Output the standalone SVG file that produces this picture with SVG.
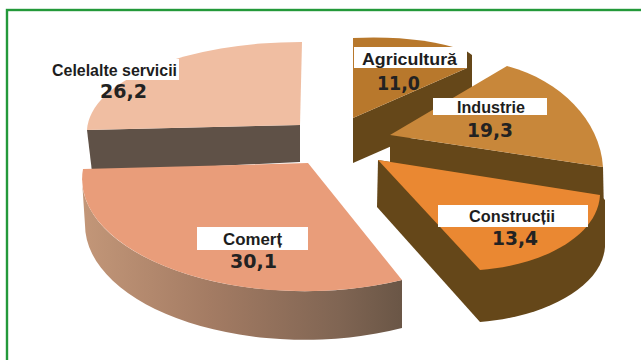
<svg xmlns="http://www.w3.org/2000/svg" width="641" height="360" viewBox="0 0 641 360">
<defs>
<linearGradient id="comSide" x1="85" y1="0" x2="402" y2="0" gradientUnits="userSpaceOnUse">
<stop offset="0" stop-color="#c29678"/>
<stop offset="0.4" stop-color="#a37b63"/>
<stop offset="0.8" stop-color="#806553"/>
<stop offset="1" stop-color="#6a5646"/>
</linearGradient>
</defs>
<style>
.box{fill:#ffffff}
.name{font-family:"Liberation Sans",Arial,sans-serif;font-weight:bold;font-size:17px;fill:#1d1d1d;text-anchor:middle}
.num{font-family:"DejaVu Sans",Verdana,sans-serif;font-weight:bold;font-size:20px;fill:#222222;text-anchor:middle}
.dark{fill:#654719}
</style>
<rect x="0" y="0" width="641" height="360" fill="#ffffff"/>
<rect x="7" y="10" width="640" height="360" fill="#ffffff" stroke="#23993a" stroke-width="2.4"/>

<g id="celelalte">
<path d="M87,130 L300,125 L300,162 L92,172 Z" fill="#5f5147"/>
<path d="M87,130 A214,90 0 0 1 302,42 L300,125 Z" fill="#f0bea2"/>
<rect class="box" x="50" y="59" width="129" height="21"/>
<text class="name" x="114.5" y="76" textLength="125" lengthAdjust="spacingAndGlyphs">Celelalte servicii</text>
<text class="num" x="123.5" y="98" textLength="47" lengthAdjust="spacingAndGlyphs">26,2</text>
</g>

<g id="comert">
<path d="M82,180 A223,112 0 0 0 402,280 L402,328 A220,115 0 0 1 85,225 Z" fill="url(#comSide)"/>
<path d="M83,169 L308,163 L402,280 A223,112 0 0 1 83,169 Z" fill="#e99d7a"/>
<rect class="box" x="197" y="227" width="111" height="23"/>
<text class="name" x="252.5" y="245" textLength="59" lengthAdjust="spacingAndGlyphs">Comerț</text>
<text class="num" x="253.5" y="268" textLength="47" lengthAdjust="spacingAndGlyphs">30,1</text>
</g>

<g id="agricultura">
<path class="dark" d="M353,118 L467,68 L467,113 L353,163 Z"/>
<path class="dark" d="M465,50 L472,55 L472,106 L467,113 L467,68 Z"/>
<path d="M353,38 Q420,35 466,51 L467,68 L353,118 Z" fill="#b8782c"/>
<rect class="box" x="354" y="47" width="113" height="21"/>
<text class="name" x="409.5" y="65" textLength="95" lengthAdjust="spacingAndGlyphs">Agricultură</text>
<text class="num" x="398.5" y="90" textLength="43" lengthAdjust="spacingAndGlyphs">11,0</text>
</g>

<g id="industrie">
<path class="dark" d="M390,135 L603,167 L604,215 L390,183 Z"/>
<path d="M390,135 L507,66 C560,80 600,120 603,167 Z" fill="#c8873a"/>
<rect class="box" x="433" y="98" width="114" height="17"/>
<text class="name" x="491" y="113" textLength="68" lengthAdjust="spacingAndGlyphs">Industrie</text>
<text class="num" x="490" y="137" textLength="46" lengthAdjust="spacingAndGlyphs">19,3</text>
</g>

<g id="constructii">
<path class="dark" d="M378,160 L600,195 L605,200 L605,247 C602,287 545,317 480,322 L377,207 Z"/>
<path d="M378,160 L600,195 C598,235 545,265 480,270 Z" fill="#ea8832"/>
<rect class="box" x="438" y="205" width="150" height="22"/>
<text class="name" x="512" y="222" textLength="86" lengthAdjust="spacingAndGlyphs">Construcții</text>
<text class="num" x="515" y="245" textLength="46" lengthAdjust="spacingAndGlyphs">13,4</text>
</g>

<g id="connectors"></g>
</svg>
